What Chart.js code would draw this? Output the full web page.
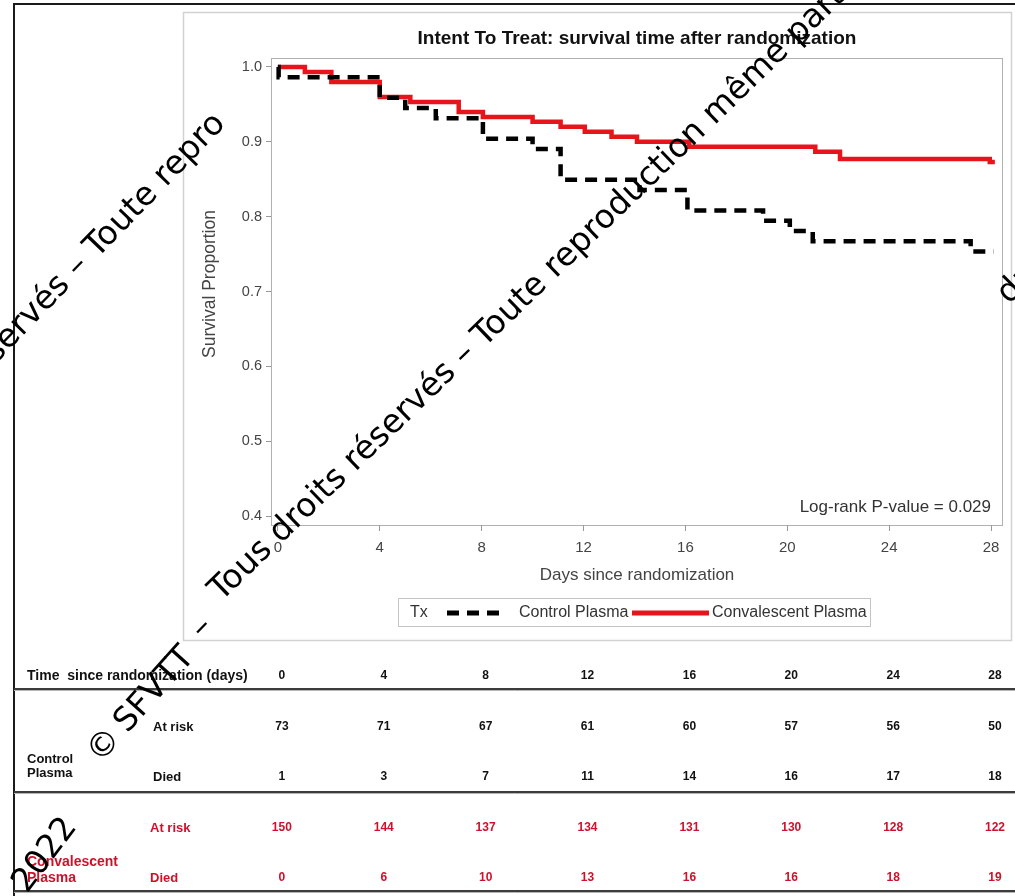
<!DOCTYPE html>
<html>
<head>
<meta charset="utf-8">
<title>Intent To Treat: survival time after randomization</title>
<script src="https://cdn.jsdelivr.net/npm/chart.js@4.4.1/dist/chart.umd.min.js"></script>
<style>
  html, body { margin: 0; padding: 0; background: #fff; }
  canvas { display: block; }
</style>
</head>
<body>
<canvas id="km" width="1015" height="896"></canvas>
<script>
// ---- data -------------------------------------------------------------
const days = [0, 4, 8, 12, 16, 20, 24, 28];
const yTicks = [0.4, 0.5, 0.6, 0.7, 0.8, 0.9, 1.0];

// Kaplan–Meier steps: event time (days) and survival just after it
const controlTimes = [0, 0.03, 4.0, 5.0, 6.2, 8.05, 10.0, 11.1, 14.2, 16.08, 19.05, 20.1, 21.0, 27.2, 28.1];
const controlSurv  = [1.0, 0.9863, 0.9589, 0.9452, 0.9315, 0.9041, 0.8904, 0.8493, 0.8356, 0.8082, 0.7945, 0.7808, 0.7671, 0.7534, 0.7534];

const convTimes = [0, 1.06, 2.1, 4.0, 5.2, 7.1, 8.05, 10.0, 11.1, 12.05, 13.1, 14.1, 16.15, 21.1, 22.07, 27.95, 28.15];
const convSurv  = [1.0, 0.9933, 0.98, 0.96, 0.9533, 0.94, 0.9333, 0.9267, 0.92, 0.9133, 0.9067, 0.90, 0.8933, 0.8867, 0.877, 0.873, 0.873];

// number-at-risk table
const controlAtRisk = [73, 71, 67, 61, 60, 57, 56, 50];
const controlDied   = [1, 3, 7, 11, 14, 16, 17, 18];
const convAtRisk    = [150, 144, 137, 134, 131, 130, 128, 122];
const convDied      = [0, 6, 10, 13, 16, 16, 18, 19];

const pValueText = 'Log-rank P-value = 0.029';

// ---- styling ----------------------------------------------------------
const SANS = '"Liberation Sans", Arial, Helvetica, sans-serif';
const RED = '#e8141c';
const TABLE_RED = '#d0102a';

// copyright stamp pieces: text, anchor x, anchor y, angle (deg), align, baseline
const stampPieces = [
  ['2022', 27, 894, 53, 'left', 'alphabetic'],
  ['\u00a9', 105, 746, 50, 'center', 'middle'],
  ['SFVTT', 155, 690, 48, 'center', 'middle'],
  ['\u2013', 202, 628, 46, 'center', 'middle'],
  ['Tous droits r\u00e9serv\u00e9s \u2013 Toute reproduction m\u00eame partielle', 221, 602, 44, 'left', 'alphabetic'],
  ['Toute repro', 97, 259, 46, 'left', 'alphabetic'],
  ['Tous droits r\u00e9serv\u00e9s \u2013 ', 97, 259, 46, 'right', 'alphabetic'],
  ['droits', 1009, 305, 45, 'left', 'alphabetic']
];

const toPoints = (t, s) => t.map((v, i) => ({ x: v, y: s[i] }));

// frames, titles, legend, risk table and the page stamp
const pagePlugin = {
  id: 'page',
  beforeDraw(chart) {
    const { ctx, chartArea: a } = chart;
    ctx.save();
    ctx.fillStyle = '#fff';
    ctx.fillRect(0, 0, chart.width, chart.height);
    // outer document frame
    ctx.strokeStyle = '#1a1a1a';
    ctx.lineWidth = 2;
    ctx.beginPath();
    ctx.moveTo(14, 900); ctx.lineTo(14, 4); ctx.lineTo(1020, 4);
    ctx.stroke();
    // graph box
    ctx.strokeStyle = '#d2d2d2';
    ctx.lineWidth = 1.5;
    ctx.strokeRect(183.5, 12.5, 828, 628);
    // plot-area frame
    ctx.strokeStyle = '#b0b0b0';
    ctx.lineWidth = 1;
    ctx.strokeRect(a.left + 0.5, a.top + 0.5, a.right - a.left - 1, a.bottom - a.top);
    ctx.restore();
  },
  afterDraw(chart) {
    const { ctx, chartArea: a, scales } = chart;
    const xs = scales.x;
    const cx = (a.left + a.right) / 2;
    ctx.save();

    // title
    ctx.fillStyle = '#111';
    ctx.font = 'bold 19px ' + SANS;
    ctx.textAlign = 'center';
    ctx.textBaseline = 'middle';
    ctx.fillText('Intent To Treat: survival time after randomization', cx, 39);

    // axis titles
    ctx.fillStyle = '#444';
    ctx.font = '17px ' + SANS;
    ctx.fillText('Days since randomization', cx, 575);
    ctx.save();
    ctx.translate(210, 284);
    ctx.rotate(-Math.PI / 2);
    ctx.font = '17.5px ' + SANS;
    ctx.fillText('Survival Proportion', 0, 0);
    ctx.restore();

    // log-rank annotation
    ctx.textAlign = 'right';
    ctx.font = '17px ' + SANS;
    ctx.fillStyle = '#333';
    ctx.fillText(pValueText, a.right - 12, 507);

    // legend
    ctx.strokeStyle = '#c4c4c4';
    ctx.lineWidth = 1;
    ctx.strokeRect(398.5, 598.5, 472, 28);
    ctx.textAlign = 'left';
    ctx.font = '16px ' + SANS;
    ctx.fillStyle = '#333';
    ctx.fillText('Tx', 410, 613);
    ctx.strokeStyle = '#000';
    ctx.lineWidth = 5;
    ctx.setLineDash([12, 8]);
    ctx.beginPath(); ctx.moveTo(447, 613); ctx.lineTo(503, 613); ctx.stroke();
    ctx.setLineDash([]);
    ctx.fillText('Control Plasma', 519, 613);
    ctx.strokeStyle = RED;
    ctx.beginPath(); ctx.moveTo(632, 613); ctx.lineTo(709, 613); ctx.stroke();
    ctx.fillText('Convalescent Plasma', 712, 613);

    // ---- number-at-risk table ----
    const colX = d => xs.getPixelForValue(d) + 4;
    const rule = y => {
      ctx.strokeStyle = '#3c3c3c';
      ctx.lineWidth = 2;
      ctx.beginPath(); ctx.moveTo(14, y); ctx.lineTo(1015, y); ctx.stroke();
      ctx.strokeStyle = '#b4b4b4';
      ctx.lineWidth = 1;
      ctx.beginPath(); ctx.moveTo(14, y + 1.5); ctx.lineTo(1015, y + 1.5); ctx.stroke();
    };
    const row = (values, y, color) => {
      ctx.fillStyle = color;
      ctx.textAlign = 'center';
      ctx.font = 'bold 12px ' + SANS;
      values.forEach((v, i) => ctx.fillText(String(v), colX(days[i]), y));
    };
    const label = (text, x, y, size, color) => {
      ctx.fillStyle = color;
      ctx.textAlign = 'left';
      ctx.font = 'bold ' + size + 'px ' + SANS;
      ctx.fillText(text, x, y);
    };
    ctx.textBaseline = 'middle';

    label('Time  since randomization (days)', 27, 676, 14, '#111');
    row(days, 676, '#111');
    rule(689);

    label('At risk', 153, 727, 13, '#111');
    label('Died', 153, 777, 13, '#111');
    label('Control', 27, 759, 13, '#111');
    label('Plasma', 27, 773, 13, '#111');
    row(controlAtRisk, 727, '#111');
    row(controlDied, 777, '#111');
    rule(792);

    label('At risk', 150, 828, 13, TABLE_RED);
    label('Died', 150, 878, 13, TABLE_RED);
    label('Convalescent', 27, 862, 14, TABLE_RED);
    label('Plasma', 27, 878, 14, TABLE_RED);
    row(convAtRisk, 828, TABLE_RED);
    row(convDied, 878, TABLE_RED);
    rule(891);

    // ---- diagonal copyright stamp ----
    ctx.fillStyle = '#000';
    ctx.font = '33px "DejaVu Sans", Verdana, sans-serif';
    stampPieces.forEach(([text, x, y, deg, align, base]) => {
      ctx.save();
      ctx.translate(x, y);
      ctx.rotate(-deg * Math.PI / 180);
      ctx.textAlign = align;
      ctx.textBaseline = base;
      ctx.fillText(text, 0, 0);
      ctx.restore();
    });

    ctx.restore();
  }
};

new Chart(document.getElementById('km'), {
  type: 'line',
  data: {
    datasets: [
      {
        label: 'Control Plasma',
        data: toPoints(controlTimes, controlSurv),
        borderColor: '#000',
        borderWidth: 4.5,
        borderDash: [12, 8],
        borderCapStyle: 'butt',
        stepped: 'before',
        pointRadius: 0,
        fill: false
      },
      {
        label: 'Convalescent Plasma',
        data: toPoints(convTimes, convSurv),
        borderColor: RED,
        borderWidth: 4.5,
        stepped: 'before',
        pointRadius: 0,
        fill: false
      }
    ]
  },
  options: {
    responsive: false,
    animation: false,
    devicePixelRatio: 1,
    layout: { padding: { left: 183, top: 58, right: 12, bottom: 256 } },
    plugins: {
      legend: { display: false },
      title: { display: false },
      tooltip: { enabled: false }
    },
    scales: {
      x: {
        type: 'linear',
        min: -0.27,
        max: 28.47,
        afterBuildTicks: s => { s.ticks = days.map(v => ({ value: v })); },
        afterFit: s => { s.height = 115; },
        grid: { drawOnChartArea: false, drawTicks: true, tickLength: 6, color: '#999' },
        border: { display: false },
        ticks: { color: '#444', font: { family: SANS, size: 15 }, padding: 8, maxRotation: 0 }
      },
      y: {
        type: 'linear',
        min: 0.388,
        max: 1.012,
        afterBuildTicks: s => { s.ticks = yTicks.map(v => ({ value: v })); },
        afterFit: s => { s.width = 88; },
        grid: { drawOnChartArea: false, drawTicks: true, tickLength: 5, color: '#999' },
        border: { display: false },
        ticks: { color: '#444', font: { family: SANS, size: 14.5 }, padding: 4, callback: v => v.toFixed(1) }
      }
    }
  },
  plugins: [pagePlugin]
});
</script>
</body>
</html>
